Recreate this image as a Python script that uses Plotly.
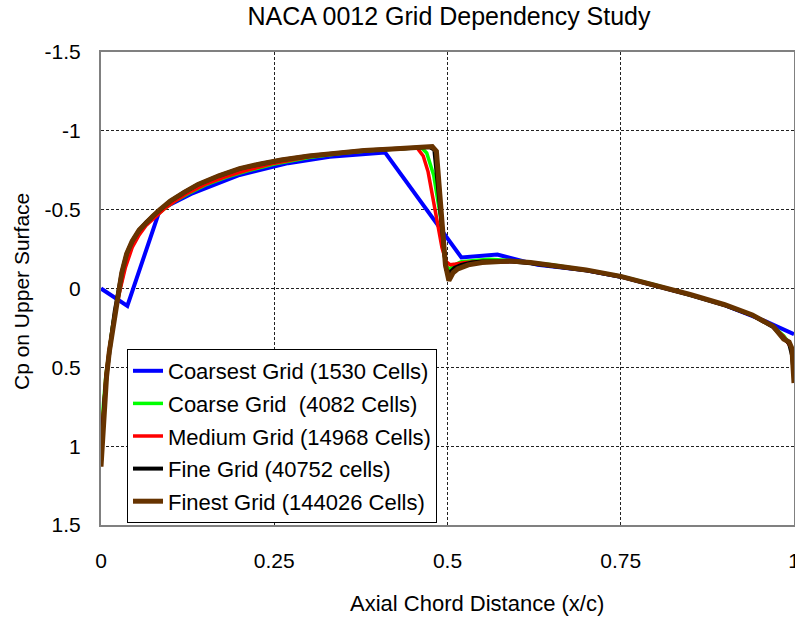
import plotly.graph_objects as go

# ---------------- data ----------------
names = [
    "Coarsest Grid (1530 Cells)",
    "Coarse Grid  (4082 Cells)",
    "Medium Grid (14968 Cells)",
    "Fine Grid (40752 cells)",
    "Finest Grid (144026 Cells)",
]
colors = ["#0000FF", "#00FF00", "#FF0000", "#000000", "#663300"]
widths = [4, 3.5, 3.5, 4, 5]

x_coarsest = [0.0, 0.038, 0.085, 0.13, 0.2, 0.27, 0.33, 0.41, 0.52, 0.572, 0.63,
              0.7, 0.75, 0.8, 0.85, 0.9, 0.96, 1.0]
cp_coarsest = [0.0, 0.11, -0.5, -0.6, -0.72, -0.795, -0.835, -0.862, -0.197, -0.215, -0.15,
               -0.115, -0.075, -0.02, 0.04, 0.105, 0.21, 0.29]

x_coarse = [0.0, 0.003, 0.007, 0.012, 0.017, 0.022, 0.028, 0.035, 0.045, 0.055, 0.065, 0.078,
            0.09, 0.105, 0.125, 0.15, 0.18, 0.21, 0.25, 0.3, 0.35, 0.4, 0.44, 0.462, 0.47,
            0.48, 0.49, 0.497, 0.503, 0.51, 0.52, 0.54, 0.56, 0.6, 0.65, 0.7, 0.75, 0.8,
            0.85, 0.9, 0.94, 0.97, 0.985, 0.995, 1.0]
cp_coarse = [1.0, 0.76, 0.55, 0.37, 0.23, 0.11, -0.02, -0.15, -0.27, -0.35, -0.41, -0.46,
             -0.5, -0.55, -0.6, -0.655, -0.705, -0.745, -0.79, -0.83, -0.86, -0.878, -0.89,
             -0.895, -0.86, -0.72, -0.45, -0.15, -0.12, -0.15, -0.17, -0.18, -0.185, -0.175,
             -0.15, -0.118, -0.078, -0.022, 0.038, 0.103, 0.168, 0.24, 0.3, 0.36, 0.48]

x_medium = [0.0, 0.003, 0.007, 0.012, 0.017, 0.022, 0.028, 0.035, 0.045, 0.055, 0.065, 0.078,
            0.09, 0.105, 0.125, 0.15, 0.18, 0.21, 0.25, 0.3, 0.35, 0.4, 0.44, 0.456, 0.465,
            0.472, 0.482, 0.492, 0.498, 0.504, 0.512, 0.525, 0.55, 0.6, 0.65, 0.7, 0.75, 0.8,
            0.85, 0.9, 0.94, 0.97, 0.985, 0.995, 1.0]
cp_medium = [1.0, 0.78, 0.56, 0.38, 0.24, 0.12, 0.0, -0.13, -0.26, -0.34, -0.4, -0.455,
             -0.5, -0.55, -0.605, -0.66, -0.71, -0.75, -0.795, -0.835, -0.862, -0.88, -0.89,
             -0.893, -0.84, -0.74, -0.5, -0.26, -0.17, -0.15, -0.155, -0.165, -0.172, -0.17,
             -0.148, -0.116, -0.076, -0.021, 0.039, 0.104, 0.17, 0.243, 0.305, 0.37, 0.44]

x_fine = [0.0, 0.002, 0.005, 0.008, 0.012, 0.016, 0.02, 0.025, 0.03, 0.037, 0.045, 0.055,
          0.065, 0.075, 0.085, 0.1, 0.12, 0.14, 0.17, 0.2, 0.23, 0.26, 0.3, 0.34, 0.38, 0.42,
          0.45, 0.474, 0.481, 0.49, 0.498, 0.503, 0.51, 0.52, 0.535, 0.55, 0.57, 0.59, 0.62,
          0.65, 0.7, 0.75, 0.8, 0.85, 0.9, 0.94, 0.97, 0.985, 0.993, 0.997, 1.0]
cp_fine = [1.1, 0.93, 0.71, 0.55, 0.39, 0.27, 0.14, 0.0, -0.1, -0.22, -0.3, -0.37,
           -0.42, -0.46, -0.5, -0.555, -0.61, -0.66, -0.715, -0.76, -0.79, -0.815, -0.84,
           -0.86, -0.875, -0.885, -0.89, -0.897, -0.88, -0.5, -0.12, -0.1, -0.13, -0.15,
           -0.165, -0.172, -0.175, -0.172, -0.16, -0.145, -0.115, -0.075, -0.02, 0.04,
           0.105, 0.17, 0.245, 0.31, 0.35, 0.42, 0.55]

x_finest = [0.0, 0.002, 0.005, 0.008, 0.012, 0.016, 0.02, 0.025, 0.03, 0.037, 0.045, 0.055,
            0.065, 0.075, 0.085, 0.1, 0.12, 0.14, 0.17, 0.2, 0.23, 0.26, 0.3, 0.34, 0.38,
            0.42, 0.45, 0.478, 0.484, 0.49, 0.497, 0.502, 0.508, 0.515, 0.53, 0.55, 0.57,
            0.59, 0.62, 0.65, 0.7, 0.75, 0.8, 0.85, 0.9, 0.94, 0.97, 0.985, 0.993, 0.997, 1.0]
cp_finest = [1.13, 0.95, 0.72, 0.56, 0.4, 0.28, 0.15, 0.0, -0.1, -0.22, -0.3, -0.37,
             -0.42, -0.46, -0.5, -0.555, -0.61, -0.66, -0.715, -0.76, -0.79, -0.815, -0.84,
             -0.86, -0.875, -0.885, -0.89, -0.9, -0.87, -0.55, -0.15, -0.05, -0.1, -0.125,
             -0.15, -0.165, -0.172, -0.175, -0.165, -0.15, -0.118, -0.077, -0.022, 0.038,
             0.103, 0.168, 0.24, 0.32, 0.34, 0.38, 0.6]

xs = [x_coarsest, x_coarse, x_medium, x_fine, x_finest]
ys = [cp_coarsest, cp_coarse, cp_medium, cp_fine, cp_finest]

x_tickvals = [0, 0.25, 0.5, 0.75, 1]
x_ticktext = ["0", "0.25", "0.5", "0.75", "1"]
y_tickvals = [-1.5, -1, -0.5, 0, 0.5, 1, 1.5]
y_ticktext = ["-1.5", "-1", "-0.5", "0", "0.5", "1", "1.5"]

title = "NACA 0012 Grid Dependency Study"
x_title = "Axial Chord Distance (x/c)"
y_title = "Cp on Upper Surface"

# ---------------- figure ----------------
FONT = "Liberation Sans, Arial, sans-serif"
fig = go.Figure()
for i in range(len(names)):
    fig.add_trace(go.Scatter(
        x=xs[i], y=ys[i], mode="lines", name=names[i],
        line=dict(color=colors[i], width=widths[i]),
        legendgroup=str(i),
    ))

W, H = 795, 619
L, R, T, B = 101, 1, 52, 94
pw = W - L - R

fig.update_layout(
    width=W, height=H,
    margin=dict(l=L, r=R, t=T, b=B),
    paper_bgcolor="white", plot_bgcolor="white",
    font=dict(family=FONT, size=21, color="black"),
    title=dict(text=title, x=(449 - L) / pw, xref="paper", y=1 - 16 / H, yref="container",
               xanchor="center", yanchor="middle", font=dict(size=25)),
    showlegend=True,
    legend=dict(
        x=(127 - L) / pw, y=1 - (349 - T) / (H - T - B), xanchor="left", yanchor="top",
        bordercolor="black", borderwidth=1, bgcolor="white",
        font=dict(size=22), traceorder="grouped", tracegroupgap=1,
    ),
    xaxis=dict(
        range=[0, 1], tickvals=x_tickvals, ticktext=x_ticktext,
        showgrid=True, gridcolor="#222", griddash="3px,2px", gridwidth=1,
        zeroline=False, showline=True, mirror=True, linecolor="#808080", linewidth=2,
        ticks="", ticklabelstandoff=16, automargin=False, ticklabeloverflow="allow",
        tickfont=dict(size=21),
    ),
    yaxis=dict(
        range=[1.5, -1.5], tickvals=y_tickvals, ticktext=y_ticktext,
        showgrid=True, gridcolor="#222", griddash="3px,2px", gridwidth=1,
        zeroline=False, showline=True, mirror=True, linecolor="#808080", linewidth=2,
        ticks="", ticklabelstandoff=14, automargin=False,
        tickfont=dict(size=21),
    ),
    annotations=[
        dict(text=x_title, xref="paper", yref="paper", x=(477 - L) / pw,
             y=-(603 - (H - B)) / (H - T - B), xanchor="center", yanchor="middle",
             showarrow=False, font=dict(size=22)),
        dict(text=y_title, xref="paper", yref="paper", x=(21 - L) / pw,
             y=1 - (292 - T) / (H - T - B),
             xanchor="center", yanchor="middle", textangle=-90,
             showarrow=False, font=dict(size=21)),
    ],
)

fig.write_html("out.html")
